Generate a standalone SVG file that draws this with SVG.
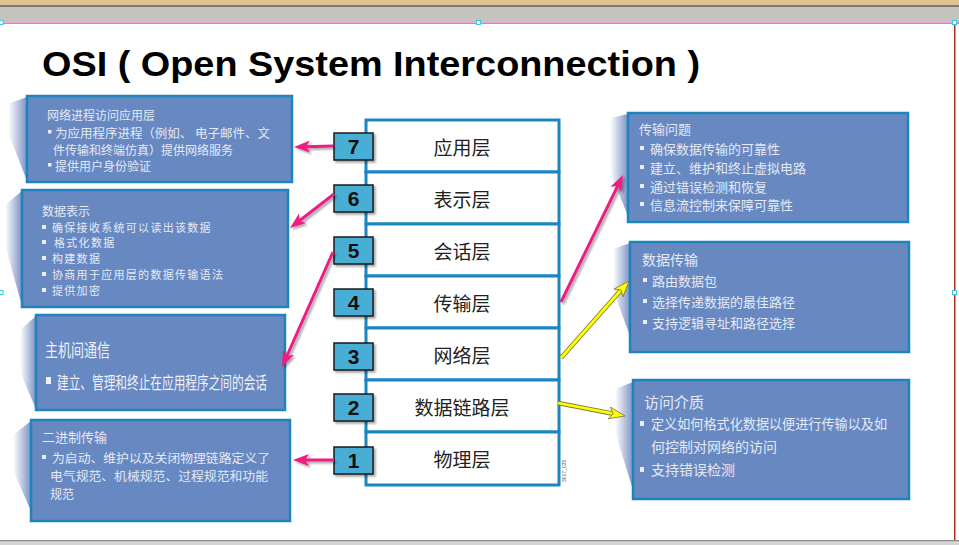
<svg xmlns="http://www.w3.org/2000/svg" width="959" height="545" viewBox="0 0 959 545">
<defs>
<linearGradient id="wedge" x1="0" y1="0" x2="1" y2="0">
<stop offset="0" stop-color="#ffffff"/>
<stop offset="1" stop-color="#7c92c4"/>
</linearGradient>
<filter id="sh" x="-20%" y="-20%" width="140%" height="140%">
<feDropShadow dx="2" dy="2" stdDeviation="1.2" flood-color="#000" flood-opacity="0.35"/>
</filter>
<marker id="pink" markerUnits="userSpaceOnUse" markerWidth="17" markerHeight="13" refX="4" refY="6" orient="auto">
<path d="M0,0 L16,6 L0,12 L4,6 z" fill="#ef1a84"/>
</marker>
<marker id="yel" markerUnits="userSpaceOnUse" markerWidth="18" markerHeight="14" refX="4.5" refY="6.5" orient="auto">
<path d="M0.5,0.5 L16.5,6.5 L0.5,12.5 L4.5,6.5 z" fill="#ffff00" stroke="#7d7a30" stroke-width="0.8"/>
</marker>
<style>
.box{fill:#6888c1;stroke:#1d84bd;stroke-width:2.5}
.wd{fill:url(#wedge)}
.b{fill:#e8edf7}
.t{font-family:"Noto Sans CJK SC","Liberation Sans",sans-serif;fill:#e4eaf5;dominant-baseline:central}
.t11{font-size:11px;letter-spacing:1.3px}
.t12{font-size:12px}
.t13{font-size:13px}
.t14{font-size:14px}
.t15{font-size:15px}
.layer{fill:#ffffff;stroke:#1a86c0;stroke-width:3}
.lt{font-family:"Noto Sans CJK SC","Liberation Sans",sans-serif;font-size:19px;fill:#222;text-anchor:middle;dominant-baseline:central}
.num{fill:#4aaed6;stroke:#1a1a1a;stroke-width:1.5}
.nt{font-family:"Liberation Sans",Arial,sans-serif;font-weight:bold;font-size:21px;fill:#111;text-anchor:middle;dominant-baseline:central}
.pk{stroke:#ef1a84;stroke-width:3;fill:none;marker-end:url(#pink)}
.yo{stroke:#7d7a30;stroke-width:4.5;fill:none}
.yl{stroke:#ffff00;stroke-width:2.8;fill:none;marker-end:url(#yel)}
</style>
</defs>

<!-- window chrome -->
<rect x="0" y="0" width="959" height="6" fill="#dcc38f"/>
<rect x="0" y="5" width="959" height="2" fill="#7a7a7a"/>
<rect x="0" y="7" width="959" height="15" fill="#c4c3be"/>
<rect x="0" y="22" width="959" height="1" fill="#f0a8d8"/>
<rect x="0" y="23" width="959" height="1" fill="#3cc8e0"/>
<rect x="0" y="24" width="955" height="516" fill="#ffffff"/>
<rect x="954" y="23" width="1.5" height="517" fill="#b0301c"/>
<rect x="0" y="540" width="959" height="5" fill="#d4d4d4"/>
<rect x="0" y="540" width="959" height="1.2" fill="#8c8c8c"/>
<g fill="#ffffff" stroke="#3cc8e0" stroke-width="1">
<rect x="-1" y="20.5" width="4" height="4"/>
<rect x="476.5" y="20.5" width="4" height="4"/>
<rect x="952.5" y="20.5" width="4" height="4"/>
<rect x="952.5" y="290.5" width="4" height="4"/>
<rect x="-1" y="290.5" width="4" height="4"/>
</g>

<!-- title -->
<text x="42" y="76" font-family="Liberation Sans, Arial, sans-serif" font-weight="bold" font-size="35" fill="#000" textLength="658" lengthAdjust="spacingAndGlyphs">OSI ( Open System Interconnection )</text>

<!-- OSI stack -->
<g id="layer7"><rect class="layer" x="366" y="120" width="193" height="52"/><text class="lt" x="462" y="146">应用层</text></g>
<g id="layer6"><rect class="layer" x="366" y="172" width="193" height="52"/><text class="lt" x="462" y="198">表示层</text></g>
<g id="layer5"><rect class="layer" x="366" y="224" width="193" height="52"/><text class="lt" x="462" y="250">会话层</text></g>
<g id="layer4"><rect class="layer" x="366" y="276" width="193" height="52"/><text class="lt" x="462" y="302">传输层</text></g>
<g id="layer3"><rect class="layer" x="366" y="328" width="193" height="52"/><text class="lt" x="462" y="354">网络层</text></g>
<g id="layer2"><rect class="layer" x="366" y="380" width="193" height="52"/><text class="lt" x="462" y="406">数据链路层</text></g>
<g id="layer1"><rect class="layer" x="366" y="432" width="193" height="53"/><text class="lt" x="462" y="458">物理层</text></g>
<text x="566" y="482" transform="rotate(-90 566 482)" font-family="Liberation Sans, sans-serif" font-size="5" fill="#555">3017_035</text>

<!-- number boxes -->
<g id="n7"><rect class="num" x="334" y="133" width="39" height="27" filter="url(#sh)"/><text class="nt" x="353.5" y="146.5">7</text></g>
<g id="n6"><rect class="num" x="334" y="185" width="39" height="27" filter="url(#sh)"/><text class="nt" x="353.5" y="198.5">6</text></g>
<g id="n5"><rect class="num" x="334" y="237" width="39" height="27" filter="url(#sh)"/><text class="nt" x="353.5" y="250.5">5</text></g>
<g id="n4"><rect class="num" x="334" y="289" width="39" height="27" filter="url(#sh)"/><text class="nt" x="353.5" y="302.5">4</text></g>
<g id="n3"><rect class="num" x="334" y="343" width="39" height="27" filter="url(#sh)"/><text class="nt" x="353.5" y="356.5">3</text></g>
<g id="n2"><rect class="num" x="334" y="394" width="39" height="27" filter="url(#sh)"/><text class="nt" x="353.5" y="407.5">2</text></g>
<g id="n1"><rect class="num" x="334" y="447" width="39" height="27" filter="url(#sh)"/><text class="nt" x="353.5" y="460.5">1</text></g>

<!-- left boxes -->
<g id="box-app">
<polygon class="wd" points="27,97 8,104 8,132 27,181"/>
<rect class="box" x="27" y="96" width="265" height="86"/>
<text class="t t12" x="47" y="114">网络进程访问应用层</text>
<rect class="b" x="48" y="130" width="3.5" height="3.5"/>
<text class="t t12" x="55" y="132" textLength="215" lengthAdjust="spacingAndGlyphs">为应用程序进程（例如、 电子邮件、文</text>
<text class="t t12" x="53" y="149">件传输和终端仿真）提供网络服务</text>
<rect class="b" x="48" y="163" width="3.5" height="3.5"/>
<text class="t t12" x="55" y="165">提供用户身份验证</text>
</g>

<g id="box-pres">
<polygon class="wd" points="22,191 5,205 5,245 22,306"/>
<rect class="box" x="22" y="190" width="266" height="117"/>
<text class="t t12" x="42" y="210">数据表示</text>
<rect class="b" x="42" y="225" width="4" height="4"/><text class="t t11" x="52" y="227">确保接收系统可以读出该数据</text>
<rect class="b" x="42" y="240" width="4" height="4"/><text class="t t11" x="54" y="242">格式化数据</text>
<rect class="b" x="42" y="256" width="4" height="4"/><text class="t t11" x="52" y="258">构建数据</text>
<rect class="b" x="42" y="272" width="4" height="4"/><text class="t t11" x="52" y="274">协商用于应用层的数据传输语法</text>
<rect class="b" x="42" y="288" width="4" height="4"/><text class="t t11" x="52" y="290">提供加密</text>
</g>

<g id="box-sess">
<polygon class="wd" points="36,316 20,330 20,372 36,409"/>
<rect class="box" x="36" y="315" width="249" height="95"/>
<text x="45" y="349" font-family="Noto Sans CJK SC, Liberation Serif, serif" font-size="18" fill="#eef1f8" dominant-baseline="central" textLength="65" lengthAdjust="spacingAndGlyphs">主机间通信</text>
<rect fill="#eef1f8" x="46" y="377" width="5" height="7"/>
<text x="57" y="381" font-family="Noto Sans CJK SC, Liberation Serif, serif" font-size="17" fill="#eef1f8" dominant-baseline="central" textLength="210" lengthAdjust="spacingAndGlyphs">建立、管理和终止在应用程序之间的会话</text>
</g>

<g id="box-phys">
<polygon class="wd" points="31,421 13,435 13,470 31,511"/>
<rect class="box" x="31" y="420" width="259" height="101"/>
<text class="t t13" x="42" y="436">二进制传输</text>
<rect class="b" x="42" y="455" width="4" height="4"/><text class="t t12" x="52" y="457" textLength="218" lengthAdjust="spacingAndGlyphs">为启动、维护以及关闭物理链路定义了</text>
<text class="t t12" x="50" y="475" textLength="218" lengthAdjust="spacingAndGlyphs">电气规范、机械规范、过程规范和功能</text>
<text class="t t12" x="50" y="493">规范</text>
</g>

<!-- right boxes -->
<g id="box-trans">
<polygon class="wd" points="628,114 610,118 610,172 628,216"/>
<rect class="box" x="628" y="113" width="280" height="109"/>
<text class="t t13" x="639" y="128">传输问题</text>
<rect class="b" x="640" y="146" width="4" height="4"/><text class="t t13" x="650" y="148">确保数据传输的可靠性</text>
<rect class="b" x="640" y="165" width="4" height="4"/><text class="t t13" x="650" y="167">建立、维护和终止虚拟电路</text>
<rect class="b" x="640" y="184" width="4" height="4"/><text class="t t13" x="650" y="186">通过错误检测和恢复</text>
<rect class="b" x="640" y="202" width="4" height="4"/><text class="t t13" x="650" y="204">信息流控制来保障可靠性</text>
</g>

<g id="box-net">
<polygon class="wd" points="630,243 613,249 613,290 630,336"/>
<rect class="box" x="630" y="242" width="279" height="110"/>
<text class="t t14" x="642" y="259">数据传输</text>
<rect class="b" x="643" y="278" width="4" height="4"/><text class="t t13" x="652" y="280">路由数据包</text>
<rect class="b" x="643" y="299" width="4" height="4"/><text class="t t13" x="652" y="301">选择传递数据的最佳路径</text>
<rect class="b" x="643" y="320" width="4" height="4"/><text class="t t13" x="652" y="322">支持逻辑寻址和路径选择</text>
</g>

<g id="box-link">
<polygon class="wd" points="633,382 615,389 615,432 633,490"/>
<rect class="box" x="633" y="380" width="276" height="119"/>
<text class="t t15" x="644" y="401">访问介质</text>
<rect class="b" x="640" y="421" width="4" height="5"/><text class="t t14" x="651" y="423" textLength="236" lengthAdjust="spacingAndGlyphs">定义如何格式化数据以便进行传输以及如</text>
<text class="t t14" x="651" y="446">何控制对网络的访问</text>
<rect class="b" x="640" y="467" width="4" height="5"/><text class="t t14" x="651" y="469">支持错误检测</text>
</g>

<!-- connectors -->
<g id="connectors">
<g filter="url(#sh)">
<line class="pk" x1="333" y1="146" x2="306" y2="146.7"/>
<line class="pk" x1="334" y1="194" x2="299.5" y2="220.7"/>
<line class="pk" x1="333" y1="252" x2="286.9" y2="356"/>
<line class="pk" x1="334" y1="460" x2="305" y2="460"/>
<line class="pk" x1="561" y1="302" x2="617.7" y2="185.8"/>
</g>
<line class="yo" x1="561" y1="358" x2="621.1" y2="290"/>
<line class="yl" x1="561" y1="358" x2="621.1" y2="290"/>
<line class="yo" x1="558" y1="403" x2="613.2" y2="413.7"/>
<line class="yl" x1="558" y1="403" x2="613.2" y2="413.7"/>
</g>
</svg>
